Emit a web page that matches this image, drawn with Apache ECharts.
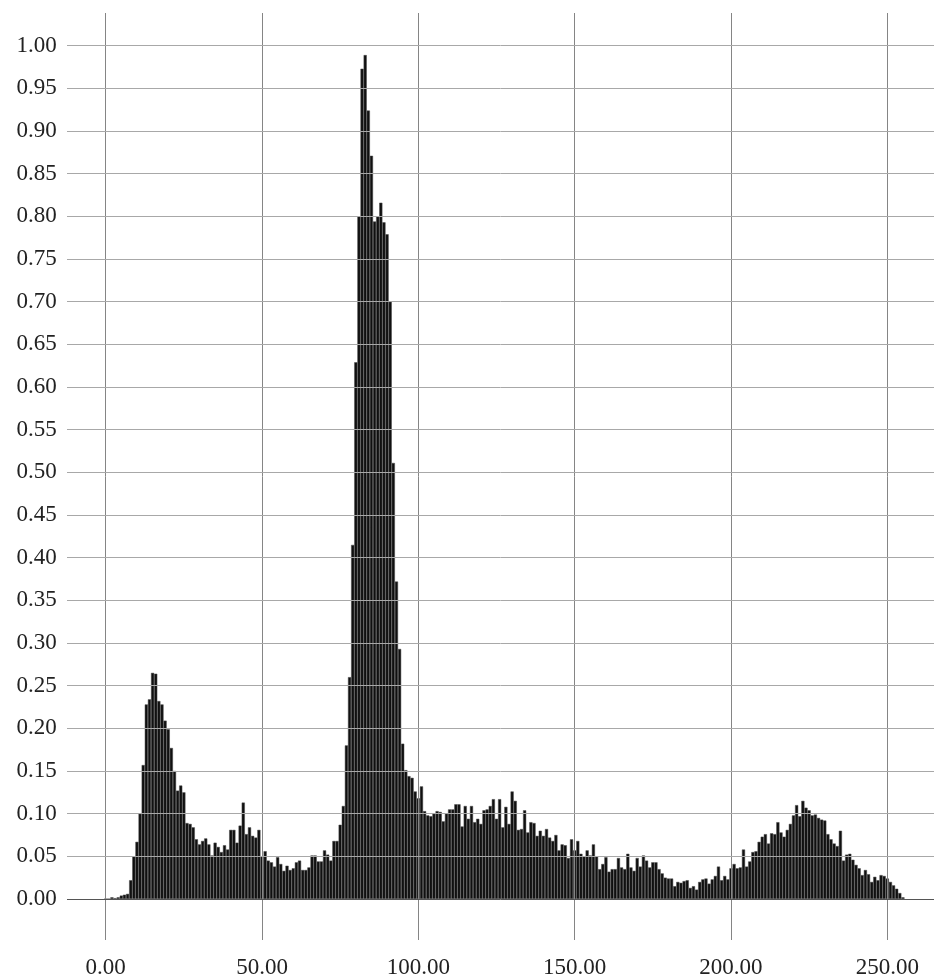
<!DOCTYPE html>
<html>
<head>
<meta charset="utf-8">
<title>Histogram</title>
<script src="https://cdn.jsdelivr.net/npm/echarts@6/dist/echarts.min.js"></script>
<style>
  html, body { margin: 0; padding: 0; background: #fff; }
  #chart { width: 934px; height: 978px; }
</style>
</head>
<body>
<div id="chart"></div>
<script>
// histogram values, bins 0..255
var bins0to63 = [
    0, 0, 0.002, 0.001, 0.002, 0.004, 0.005, 0.006, 0.022, 0.050,
    0.067, 0.100, 0.157, 0.228, 0.234, 0.265, 0.264, 0.232, 0.228, 0.209,
    0.199, 0.177, 0.150, 0.127, 0.133, 0.125, 0.089, 0.088, 0.084, 0.070,
    0.064, 0.068, 0.071, 0.064, 0.051, 0.066, 0.061, 0.055, 0.063, 0.058,
    0.081, 0.081, 0.066, 0.086, 0.113, 0.076, 0.084, 0.074, 0.072, 0.081,
    0.050, 0.056, 0.045, 0.043, 0.038, 0.049, 0.041, 0.033, 0.039, 0.034,
    0.036, 0.043, 0.045, 0.034
];
var bins64to127 = [
    0.034, 0.037, 0.051, 0.051, 0.044, 0.044,
    0.057, 0.052, 0.045, 0.068, 0.068, 0.087, 0.109, 0.180, 0.260, 0.415,
    0.629, 0.800, 0.973, 0.989, 0.924, 0.871, 0.794, 0.800, 0.816, 0.793,
    0.779, 0.700, 0.511, 0.372, 0.293, 0.182, 0.151, 0.144, 0.142, 0.126,
    0.118, 0.132, 0.103, 0.098, 0.097, 0.100, 0.103, 0.102, 0.091, 0.100,
    0.105, 0.105, 0.111, 0.111, 0.085, 0.109, 0.094, 0.109, 0.090, 0.094,
    0.088, 0.104, 0.105, 0.109, 0.117, 0.094, 0.117, 0.084
];
var bins128to191 = [
    0.108, 0.088,
    0.126, 0.115, 0.081, 0.082, 0.104, 0.078, 0.090, 0.089, 0.074, 0.080,
    0.074, 0.082, 0.072, 0.068, 0.075, 0.057, 0.064, 0.063, 0.048, 0.070,
    0.057, 0.068, 0.053, 0.050, 0.057, 0.051, 0.064, 0.050, 0.035, 0.041,
    0.049, 0.032, 0.035, 0.035, 0.048, 0.037, 0.035, 0.053, 0.037, 0.033,
    0.048, 0.038, 0.051, 0.045, 0.037, 0.043, 0.043, 0.035, 0.030, 0.025,
    0.024, 0.024, 0.015, 0.020, 0.019, 0.021, 0.022, 0.013, 0.015, 0.011,
    0.020, 0.023
];
var bins192to255 = [
    0.024, 0.018, 0.023, 0.027, 0.038, 0.022, 0.027, 0.023,
    0.036, 0.041, 0.036, 0.037, 0.058, 0.038, 0.044, 0.055, 0.056, 0.067,
    0.073, 0.076, 0.065, 0.077, 0.076, 0.090, 0.078, 0.073, 0.081, 0.088,
    0.098, 0.110, 0.097, 0.115, 0.107, 0.104, 0.098, 0.099, 0.095, 0.093,
    0.092, 0.076, 0.070, 0.065, 0.062, 0.080, 0.045, 0.052, 0.053, 0.046,
    0.040, 0.036, 0.028, 0.034, 0.029, 0.020, 0.026, 0.022, 0.028, 0.027,
    0.024, 0.020, 0.016, 0.012, 0.007, 0.002
];
var xTicks = [0, 50, 100, 150, 200, 250];
var yTicks = [0, 0.05, 0.10, 0.15, 0.20, 0.25, 0.30, 0.35, 0.40, 0.45, 0.50,
              0.55, 0.60, 0.65, 0.70, 0.75, 0.80, 0.85, 0.90, 0.95, 1.00];

var values = bins0to63.concat(bins64to127, bins128to191, bins192to255);

(function(){
    var W = 934, H = 978;
    // where 0 / 250 and 0 / 1 sit in the picture
    var x0 = 105.7, x250 = 887.3, y0 = 899, y1 = 45.7;
    var sx = (x250 - x0) / 250, sy = y0 - y1;
    // the outer box the grid lines run across
    var boxL = 67, boxR = W, boxT = 13, boxB = 940;

    var font = '"Liberation Serif", "Times New Roman", serif';

    var myChart = echarts.init(document.getElementById('chart'));

    var gridLines = [];
    xTicks.forEach(function(v){
        gridLines.push({ xAxis: v, lineStyle: { color: '#858585', width: 1, type: 'solid' } });
    });
    yTicks.forEach(function(v){
        gridLines.push({ yAxis: v, lineStyle: { color: v === 0 ? '#555' : '#a8a8a8', width: 1, type: 'solid' } });
    });

    var option = {
        animation: false,
        backgroundColor: '#fff',
        grid: [
            // wide box: bars + grid lines
            { left: boxL, right: W - boxR, top: boxT, bottom: H - boxB, containLabel: false, outerBoundsMode: 'none' },
            // inner box: only used for the tick labels
            { left: x0, right: W - x250, top: y1, bottom: H - y0, containLabel: false, outerBoundsMode: 'none' }
        ],
        xAxis: [
            {
                type: 'value', gridIndex: 0,
                min: (boxL - x0) / sx, max: (boxR - x0) / sx,
                axisLine: { show: false }, axisTick: { show: false },
                axisLabel: { show: false }, splitLine: { show: false }
            },
            {
                type: 'value', gridIndex: 1,
                min: 0, max: 250, interval: 50,
                axisLine: { show: false }, axisTick: { show: false }, splitLine: { show: false },
                axisLabel: {
                    margin: 57, color: '#222', fontFamily: font, fontSize: 23,
                    showMinLabel: true, showMaxLabel: true,
                    formatter: function(v){ return v.toFixed(2); }
                }
            }
        ],
        yAxis: [
            {
                type: 'value', gridIndex: 0,
                min: (y0 - boxB) / sy, max: (y0 - boxT) / sy,
                axisLine: { show: false }, axisTick: { show: false },
                axisLabel: { show: false }, splitLine: { show: false }
            },
            {
                type: 'value', gridIndex: 1,
                min: 0, max: 1, interval: 0.05,
                axisLine: { show: false }, axisTick: { show: false }, splitLine: { show: false },
                axisLabel: {
                    margin: 49, color: '#222', fontFamily: font, fontSize: 23,
                    showMinLabel: true, showMaxLabel: true,
                    formatter: function(v){ return v.toFixed(2); }
                }
            }
        ],
        series: [
            {
                type: 'bar',
                xAxisIndex: 0, yAxisIndex: 0,
                barWidth: sx,
                clip: false,
                data: values.map(function(v, i){ return [i, v]; }),
                itemStyle: {
                    color: '#101010',
                    borderColor: '#4a4a4a',
                    borderWidth: 0.5
                },
                markLine: {
                    silent: true,
                    symbol: 'none',
                    label: { show: false },
                    animation: false,
                    data: gridLines
                }
            }
        ]
    };
    myChart.setOption(option);
    window.addEventListener('resize', function(){
        myChart.resize();
    });
})();
</script>
</body>
</html>
